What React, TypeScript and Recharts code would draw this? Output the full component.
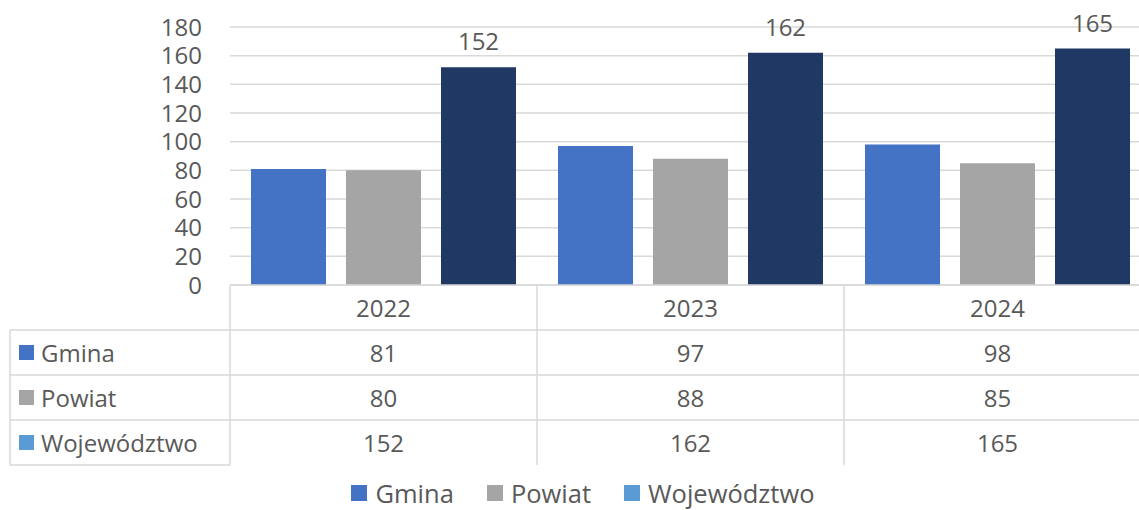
import React from "react";
import { BarChart, Bar, XAxis, YAxis, CartesianGrid, Legend, LabelList } from "recharts";

// --- data ---
const years = ["2022", "2023", "2024"];
const gmina = [81, 97, 98];
const powiat = [80, 88, 85];
const wojewodztwo = [152, 162, 165];
const yTicks = [0, 20, 40, 60, 80, 100, 120, 140, 160, 180];

const seriesNames = ["Gmina", "Powiat", "Województwo"];
const barColors = ["#4472C4", "#A5A5A5", "#203864"];
// the key swatches in the original use a lighter blue for the third series
const keyColors = ["#4472C4", "#A5A5A5", "#5B9BD5"];

const data = years.map((year, i) => ({
  year,
  gmina: gmina[i],
  powiat: powiat[i],
  wojewodztwo: wojewodztwo[i],
}));
const rows = [gmina, powiat, wojewodztwo];

const TEXT = "#595959";
const LINE = "#D9D9D9";
const ROW_H = 45;
const FONT = 24;
const HEADER_W = 220;

// --- data table drawn under each category ---
const TableTick = (props: any) => {
  const { x, y, payload, index } = props;
  const half = payload?.offset || 153.5;
  const left = x - half;
  const right = x + half;
  const bottom = y + ROW_H * (rows.length + 1);
  const headLeft = left - HEADER_W;

  return (
    <g>
      <text x={x} y={y + ROW_H / 2} textAnchor="middle" dominantBaseline="central" fill={TEXT} fontSize={FONT}>
        {payload.value}
      </text>
      {rows.map((vals, r) => (
        <text
          key={r}
          x={x}
          y={y + ROW_H * (r + 1) + ROW_H / 2}
          textAnchor="middle"
          dominantBaseline="central"
          fill={TEXT}
          fontSize={FONT}
        >
          {vals[index]}
        </text>
      ))}
      {rows.map((_, r) => (
        <line key={r} x1={left} x2={right} y1={y + ROW_H * (r + 1)} y2={y + ROW_H * (r + 1)} stroke={LINE} strokeWidth={1.5} />
      ))}
      <line x1={right} x2={right} y1={y} y2={bottom} stroke={LINE} strokeWidth={1.5} />

      {index === 0 && (
        <g>
          <line x1={left} x2={left} y1={y} y2={bottom} stroke={LINE} strokeWidth={1.5} />
          <line x1={headLeft} x2={headLeft} y1={y + ROW_H} y2={bottom} stroke={LINE} strokeWidth={1.5} />
          {rows.map((_, r) => (
            <line
              key={r}
              x1={headLeft}
              x2={left}
              y1={y + ROW_H * (r + 1)}
              y2={y + ROW_H * (r + 1)}
              stroke={LINE}
              strokeWidth={1.5}
            />
          ))}
          <line x1={headLeft} x2={left} y1={bottom} y2={bottom} stroke={LINE} strokeWidth={1.5} />
          {seriesNames.map((name, r) => {
            const cy = y + ROW_H * (r + 1) + ROW_H / 2;
            return (
              <g key={name}>
                <rect x={headLeft + 9} y={cy - 7.5} width={15} height={15} fill={keyColors[r]} />
                <text x={headLeft + 31} y={cy} dominantBaseline="central" fill={TEXT} fontSize={FONT}>
                  {name}
                </text>
              </g>
            );
          })}
        </g>
      )}
    </g>
  );
};

const KeyLegend = ({ payload }: any) => {
  const items = payload || [];
  return (
    <div style={{ display: "flex", justifyContent: "center", paddingTop: 15 }}>
      {items.map((p: any, i: number) => {
        const idx = seriesNames.indexOf(p.value);
        return (
          <div key={p.value} style={{ display: "flex", alignItems: "center", marginRight: i < items.length - 1 ? 33 : 0 }}>
            <span
              style={{
                display: "inline-block",
                width: 16,
                height: 16,
                background: idx >= 0 ? keyColors[idx] : p.color,
                marginRight: 8,
              }}
            />
            <span style={{ fontSize: 25.5, lineHeight: "26px", color: TEXT }}>{p.value}</span>
          </div>
        );
      })}
    </div>
  );
};

export default function App() {
  return (
    <div
      style={{
        position: "fixed",
        top: 0,
        left: 0,
        width: 1139,
        height: 510,
        overflow: "hidden",
        background: "#fff",
        fontFamily: "'Open Sans', sans-serif",
      }}
    >
      <BarChart
        width={1166}
        height={510}
        data={data}
        margin={{ top: 27, right: 15, left: 0, bottom: 0 }}
        barCategoryGap={21}
        barGap={20}
      >
        <CartesianGrid vertical={false} stroke={LINE} strokeWidth={1.5} />
        <YAxis
          width={HEADER_W + 10}
          domain={[0, 180]}
          ticks={yTicks}
          interval={0}
          axisLine={false}
          tickLine={false}
          tickMargin={22}
          tick={{ fill: TEXT, fontSize: FONT }}
        />
        <XAxis
          dataKey="year"
          height={ROW_H * 4}
          axisLine={{ stroke: LINE, strokeWidth: 1.5 }}
          tickLine={false}
          tickSize={0}
          tickMargin={0}
          tick={<TableTick />}
          interval={0}
        />
        <Legend
          verticalAlign="bottom"
          content={<KeyLegend />}
          wrapperStyle={{ height: 45, left: 0, width: 1166 }}
        />
        <Bar dataKey="gmina" name={seriesNames[0]} fill={barColors[0]} isAnimationActive={false} />
        <Bar dataKey="powiat" name={seriesNames[1]} fill={barColors[1]} isAnimationActive={false} />
        <Bar dataKey="wojewodztwo" name={seriesNames[2]} fill={barColors[2]} isAnimationActive={false}>
          <LabelList dataKey="wojewodztwo" position="top" offset={17} fill={TEXT} fontSize={FONT} />
        </Bar>
      </BarChart>
    </div>
  );
}
